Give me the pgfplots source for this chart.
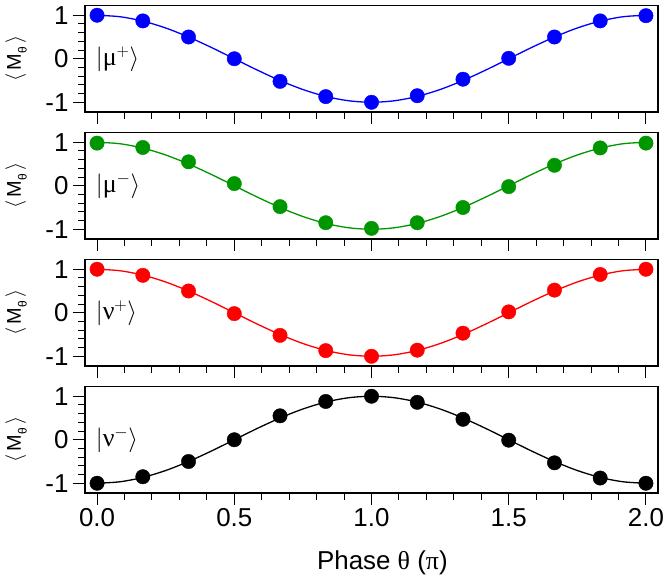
\documentclass[border=0pt]{standalone}
\usepackage{pgfplots}
\pgfplotsset{compat=1.18}
\usepackage{pgfplotstable}
\usepgfplotslibrary{groupplots}
\usetikzlibrary{calc}
\usepackage{fontspec}
\setmainfont{Liberation Sans}
\newfontfamily\serif{Liberation Serif}
\definecolor{cblue}{RGB}{0,0,255}
\definecolor{cgreen}{RGB}{0,150,0}
\definecolor{cred}{RGB}{255,0,0}
\pgfplotstableread{
x y
0.0000 1.0000
0.0833 0.9659
0.1667 0.8660
0.2500 0.7071
0.3333 0.5000
0.4167 0.2588
0.5000 0.0000
0.5833 -0.2588
0.6667 -0.5000
0.7500 -0.7071
0.8333 -0.8660
0.9167 -0.9659
1.0000 -1.0000
1.0833 -0.9659
1.1667 -0.8660
1.2500 -0.7071
1.3333 -0.5000
1.4167 -0.2588
1.5000 0.0000
1.5833 0.2588
1.6667 0.5000
1.7500 0.7071
1.8333 0.8660
1.9167 0.9659
2.0000 1.0000
}\fitpos
\pgfplotstableread{
x y
0.0000 -1.0000
0.0833 -0.9659
0.1667 -0.8660
0.2500 -0.7071
0.3333 -0.5000
0.4167 -0.2588
0.5000 0.0000
0.5833 0.2588
0.6667 0.5000
0.7500 0.7071
0.8333 0.8660
0.9167 0.9659
1.0000 1.0000
1.0833 0.9659
1.1667 0.8660
1.2500 0.7071
1.3333 0.5000
1.4167 0.2588
1.5000 0.0000
1.5833 -0.2588
1.6667 -0.5000
1.7500 -0.7071
1.8333 -0.8660
1.9167 -0.9659
2.0000 -1.0000
}\fitneg
\pgfplotstableread{
x y
0.0000 1.00
0.1667 0.87
0.3333 0.50
0.5000 0.00
0.6667 -0.52
0.8333 -0.87
1.0000 -1.00
1.1667 -0.85
1.3333 -0.47
1.5000 0.01
1.6667 0.50
1.8333 0.87
2.0000 0.99
}\mup
\pgfplotstableread{
x y
0.0000 0.98
0.1667 0.88
0.3333 0.55
0.5000 0.05
0.6667 -0.48
0.8333 -0.85
1.0000 -0.98
1.1667 -0.85
1.3333 -0.50
1.5000 -0.02
1.6667 0.47
1.8333 0.87
2.0000 0.98
}\mum
\pgfplotstableread{
x y
0.0000 1.00
0.1667 0.86
0.3333 0.50
0.5000 -0.02
0.6667 -0.52
0.8333 -0.87
1.0000 -1.00
1.1667 -0.86
1.3333 -0.47
1.5000 0.02
1.6667 0.52
1.8333 0.88
2.0000 1.00
}\nup
\pgfplotstableread{
x y
0.0000 -1.00
0.1667 -0.85
0.3333 -0.50
0.5000 0.00
0.6667 0.55
0.8333 0.88
1.0000 1.00
1.1667 0.86
1.3333 0.47
1.5000 -0.01
1.6667 -0.53
1.8333 -0.88
2.0000 -1.00
}\num
\newcommand{\ylab}{$\langle$\,M\raisebox{-0.55ex}{\fontsize{12}{12}\selectfont θ}\,$\rangle$}
\begin{document}
\begin{tikzpicture}
\begin{groupplot}[
  group style={group size=1 by 4, vertical sep=20.5bp, xticklabels at=edge bottom},
  scale only axis,
  width=573bp, height=106.5bp,
  xmin=-0.044, xmax=2.044,
  ymin=-1.224, ymax=1.224,
  xtick={0,0.5,1,1.5,2},
  minor xtick={0.1,0.2,0.3,0.4,0.6,0.7,0.8,0.9,1.1,1.2,1.3,1.4,1.6,1.7,1.8,1.9},
  ytick={-1,0,1},
  minor ytick={-0.8,-0.6,-0.4,-0.2,0.2,0.4,0.6,0.8},
  xtick pos=lower, ytick pos=left,
  tick align=outside,
  major tick length=12bp, minor tick length=6.5bp,
  every tick/.style={black, line width=1bp},
  axis line style={line width=1.3bp},
  /pgf/number format/assume math mode=true,
  xticklabel style={/pgf/number format/fixed, /pgf/number format/fixed zerofill, /pgf/number format/precision=1},
  ticklabel style={font=\fontsize{26}{30}\selectfont},
  yticklabel style={xshift=-1bp},
  every axis y label/.style={at={(axis description cs:-0.1204,0.5)}, rotate=90, anchor=center, inner sep=0pt, font=\fontsize{20}{24}\selectfont},
  every axis x label/.style={at={(axis description cs:0.519,-0.657)}, anchor=center, font=\fontsize{26}{30}\selectfont},
  ylabel={\ylab},
  clip=false,
]
\nextgroupplot
\addplot[cblue, line width=1.3bp, smooth] table {\fitpos};
\addplot[only marks, mark=*, mark size=7.2bp, cblue, mark options={draw=cblue, fill=cblue}] table {\mup};
\node[anchor=west, inner sep=0pt, font=\fontsize{26}{30}\selectfont] at (axis cs:-0.005,0) {$|$\serif μ$^{+}\rangle$};
\nextgroupplot
\addplot[cgreen, line width=1.3bp, smooth] table {\fitpos};
\addplot[only marks, mark=*, mark size=7.2bp, cgreen, mark options={draw=cgreen, fill=cgreen}] table {\mum};
\node[anchor=west, inner sep=0pt, font=\fontsize{26}{30}\selectfont] at (axis cs:-0.005,0) {$|$\serif μ$^{-}\rangle$};
\nextgroupplot
\addplot[cred, line width=1.3bp, smooth] table {\fitpos};
\addplot[only marks, mark=*, mark size=7.2bp, cred, mark options={draw=cred, fill=cred}] table {\nup};
\node[anchor=west, inner sep=0pt, font=\fontsize{26}{30}\selectfont] at (axis cs:-0.005,0) {$|$\serif ν$^{+}\rangle$};
\nextgroupplot[xlabel={Phase {\serif θ} ({\serif π})}]
\addplot[black, line width=1.3bp, smooth] table {\fitneg};
\addplot[only marks, mark=*, mark size=7.2bp, black, mark options={draw=black, fill=black}] table {\num};
\node[anchor=west, inner sep=0pt, font=\fontsize{26}{30}\selectfont] at (axis cs:-0.005,0) {$|$\serif ν$^{-}\rangle$};
\end{groupplot}
\pgfresetboundingbox
\path[use as bounding box] ($(group c1r1.north west)+(-85bp,5.5bp)$) rectangle ($(group c1r4.south west)+(580bp,-91bp)$);
\end{tikzpicture}
\end{document}
